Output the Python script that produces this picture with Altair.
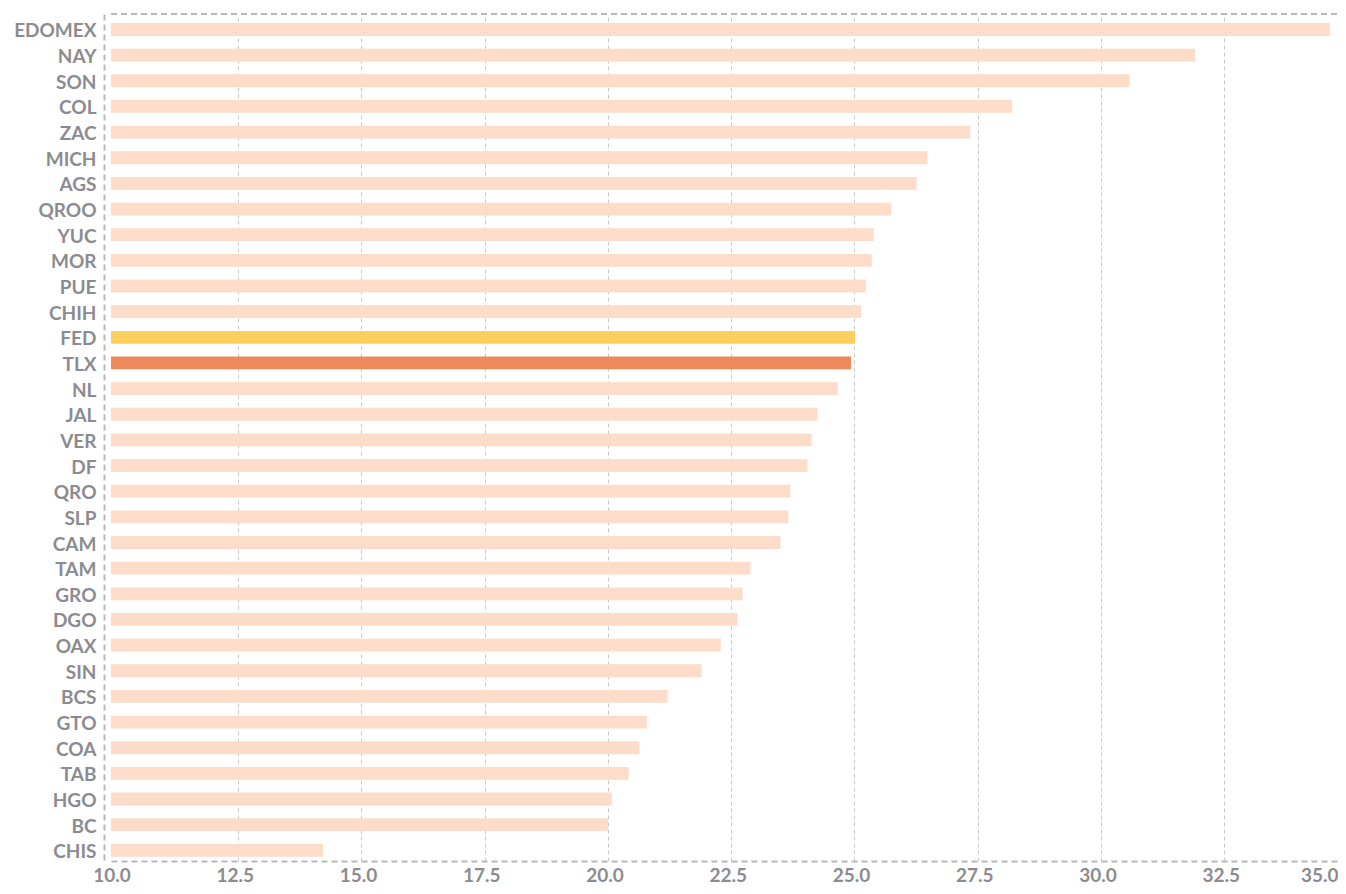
import altair as alt
import pandas as pd

states = ["EDOMEX", "NAY", "SON", "COL", "ZAC", "MICH", "AGS", "QROO", "YUC", "MOR",
          "PUE", "CHIH", "FED", "TLX", "NL", "JAL", "VER", "DF", "QRO", "SLP",
          "CAM", "TAM", "GRO", "DGO", "OAX", "SIN", "BCS", "GTO", "COA", "TAB",
          "HGO", "BC", "CHIS"]
values = [34.71, 31.98, 30.65, 28.27, 27.42, 26.55, 26.33, 25.82, 25.46, 25.42,
          25.30, 25.21, 25.08, 25.00, 24.73, 24.32, 24.20, 24.12, 23.77, 23.73,
          23.57, 22.96, 22.80, 22.70, 22.36, 21.97, 21.28, 20.86, 20.71, 20.49,
          20.15, 20.07, 14.29]
groups = ["fed" if s == "FED" else "tlx" if s == "TLX" else "other" for s in states]
ticks = [10.0, 12.5, 15.0, 17.5, 20.0, 22.5, 25.0, 27.5, 30.0, 32.5, 35.0]

df = pd.DataFrame({"state": states, "value": values, "group": groups})

W, H = 1233, 847
GRAY = "#8c8c90"
LINE = "#b9b9b9"
FONT = "Lato"
FS = 19

x_scale = alt.Scale(domain=[9.99, 35], nice=False, zero=False)

bars = alt.Chart(df).mark_bar().encode(
    x=alt.X("value:Q", scale=x_scale,
            axis=alt.Axis(values=ticks, format=".1f", title=None, ticks=False,
                          grid=True, gridDash=[4, 3], gridColor="#c9c9c9", gridWidth=1,
                          gridOpacity={"condition": {"test": "datum.value <= 10", "value": 0}, "value": 1},
                          domain=True, domainColor=LINE, domainWidth=2, domainDash=[6, 4],
                          labelFont=FONT, labelFontSize=FS, labelFontWeight="bold",
                          labelColor=GRAY, labelPadding=5,
                          tickOffset=3.3, labelOffset=-3.3,
                          labelFlush=0.2, labelFlushOffset=-6)),
    x2=alt.datum(9.99),
    y=alt.Y("state:N", sort=states,
            scale=alt.Scale(paddingInner=0.5, paddingOuter=0.26, align=0.68),
            axis=alt.Axis(title=None, ticks=False, grid=False, offset=7,
                          domain=True, domainColor=LINE, domainWidth=2, domainDash=[6, 4],
                          labelFont=FONT, labelFontSize=FS, labelFontWeight="bold",
                          labelColor=GRAY, labelPadding=8, labelOffset=2)),
    color=alt.Color("group:N",
                    scale=alt.Scale(domain=["other", "fed", "tlx"],
                                    range=["#fddcc9", "#fdd05d", "#ee895b"]),
                    legend=None),
)

top_line = alt.Chart(df).mark_rule(color=LINE, strokeWidth=2, strokeDash=[6, 4]).encode(
    x=alt.value(0), x2=alt.value(W), y=alt.value(0)
)

chart = alt.layer(bars, top_line).properties(
    width=W, height=H,
    autosize=alt.AutoSizeParams(type="none"),
    padding={"left": 103, "top": 6, "right": -6, "bottom": 24},
).configure_view(stroke=None)

chart.save("out.html", embed_options={"renderer": "svg", "actions": False})
